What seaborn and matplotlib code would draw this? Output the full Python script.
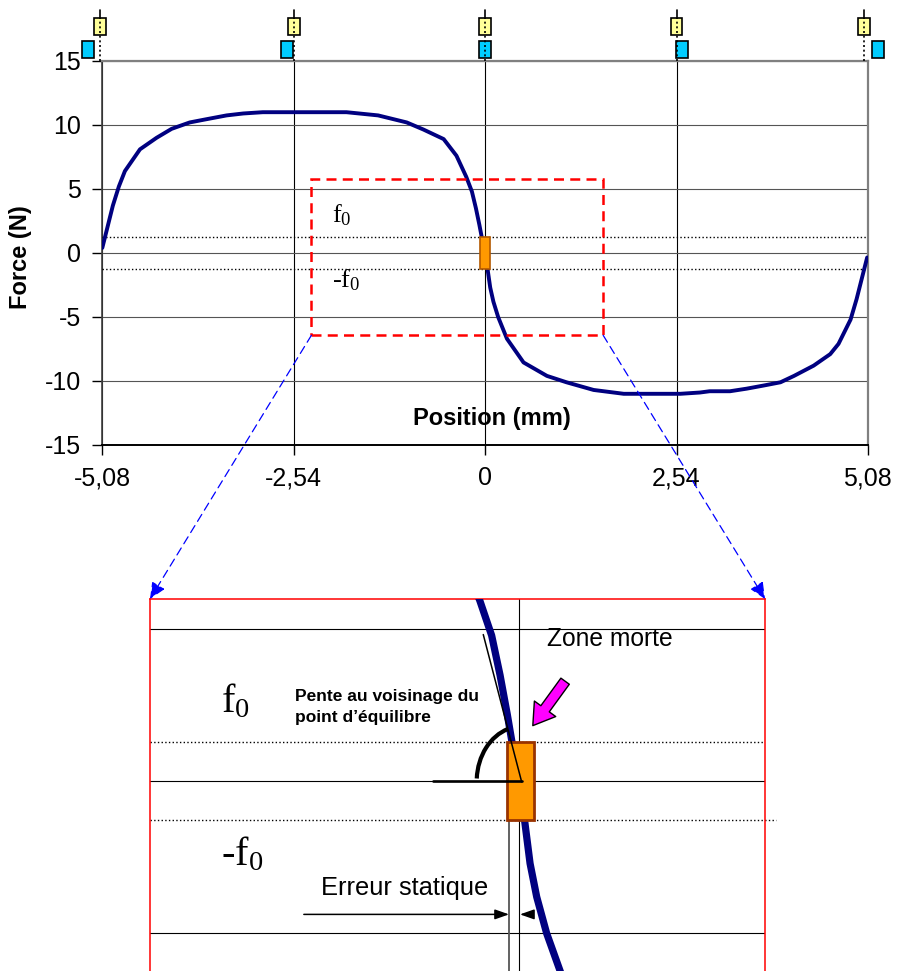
import matplotlib
matplotlib.use('Agg')
import matplotlib.pyplot as plt
import matplotlib.transforms as mtransforms
from matplotlib.patches import Rectangle, Arc, FancyArrowPatch, ConnectionPatch
import seaborn as sns

# Force / position curve
position_mm = [-5.08, -4.94, -4.86, -4.78, -4.58, -4.36, -4.16, -3.92, -3.70, -3.43,
               -3.21, -2.95, -2.60, -1.84, -1.42, -1.04, -0.82, -0.55, -0.38, -0.25,
               -0.175, -0.122, -0.076, -0.045, 0.035, 0.068, 0.11, 0.173, 0.29, 0.51,
               0.82, 1.08, 1.44, 1.84, 2.59, 2.85, 2.98, 3.25, 3.47, 3.70,
               3.92, 4.10, 4.36, 4.58, 4.69, 4.85, 4.93, 5.07]
force_n = [0.4, 3.7, 5.2, 6.4, 8.1, 9.0, 9.7, 10.2, 10.45, 10.75,
           10.9, 11.0, 11.0, 11.0, 10.75, 10.2, 9.65, 8.9, 7.6, 5.95,
           4.8, 3.5, 2.2, 1.25, -1.35, -2.7, -3.8, -5.0, -6.7, -8.55,
           -9.6, -10.1, -10.7, -11.0, -11.0, -10.9, -10.8, -10.8, -10.6, -10.35,
           -10.1, -9.6, -8.8, -7.9, -7.1, -5.2, -3.6, -0.35]

x_ticks = [-5.08, -2.54, 0, 2.54, 5.08]
x_tick_labels = ['-5,08', '-2,54', '0', '2,54', '5,08']
y_ticks = [-15, -10, -5, 0, 5, 10, 15]

F0 = 1.28                       # friction threshold (N)
dead_zone_main = (-0.07, 0.065)  # orange box, main chart (mm)
dead_zone_inset = (-0.076, 0.095)
static_error_mm = -0.065
zoom_box_x = (-2.305, 1.567)
zoom_box_y = (-6.43, 5.76)
inset_xlim = (-2.336, 1.554)
inset_ylim = (-6.336, 6.0)

# little selection handles above the chart (offsets in mm from each grid line)
handle_offset_yellow = [-0.035, 0.0, 0.0, 0.0, -0.052]
handle_offset_cyan = [-0.186, -0.093, 0.0, 0.073, 0.138]

NAVY = '#000080'
ORANGE = '#FF9900'

sns.set_theme(style='white')
plt.rcParams['font.family'] = ['Liberation Sans', 'DejaVu Sans']
plt.rcParams['mathtext.fontset'] = 'custom'
plt.rcParams['mathtext.rm'] = 'Liberation Serif'
plt.rcParams['axes.unicode_minus'] = False
plt.rcParams['text.color'] = 'black'
plt.rcParams['axes.labelcolor'] = 'black'

W, H = 897, 971
fig = plt.figure(figsize=(W / 100, H / 100), dpi=100)

# ---------------- main chart ----------------
ax = fig.add_axes([102.3 / W, 1 - 445 / H, 765.6 / W, 384 / H])
sns.lineplot(x=position_mm, y=force_n, ax=ax, color=NAVY, lw=2.8, zorder=4)
ax.set_xlim(-5.08, 5.08)
ax.set_ylim(-15, 15)
ax.set_xticks(x_ticks, x_tick_labels)
ax.set_yticks(y_ticks)
ax.set_xlabel('')
ax.set_ylabel('Force (N)', fontsize=17, fontweight='bold', color='black')
ax.yaxis.set_label_coords(-0.092, 0.49)
ax.tick_params(axis='both', labelsize=18, length=7.2, width=1, direction='out',
               left=True, bottom=True, colors='black', labelcolor='black')
ax.tick_params(axis='y', pad=8.4)
ax.tick_params(axis='x', pad=8)
ax.set_axisbelow(True)
ax.grid(axis='y', color='#555555', lw=0.8)
ax.grid(axis='x', color='black', lw=0.8)
ax.spines['left'].set_color('#404040')
ax.spines['left'].set_linewidth(1.2)
ax.spines['bottom'].set_color('black')
ax.spines['bottom'].set_linewidth(1.4)
for side in ['top', 'right']:
    ax.spines[side].set_color('#808080')
    ax.spines[side].set_linewidth(1.6)

ax.axhline(F0, color='black', ls=':', lw=1.0, zorder=3)
ax.axhline(-F0, color='black', ls=':', lw=1.0, zorder=3)
ax.text(-2.03, 2.38, r'$\mathrm{f_0}$', fontsize=19, family='Liberation Serif')
ax.text(-2.03, -2.70, r'-$\mathrm{f_0}$', fontsize=19, family='Liberation Serif')
ax.text(0.509, 0.07, 'Position (mm)', transform=ax.transAxes, ha='center',
        va='center', fontsize=17, fontweight='bold')

ax.add_patch(Rectangle((dead_zone_main[0], -F0), dead_zone_main[1] - dead_zone_main[0],
                       2 * F0, fc=ORANGE, ec='#B35900', lw=1.2, zorder=5))
ax.add_patch(Rectangle((zoom_box_x[0], zoom_box_y[0]), zoom_box_x[1] - zoom_box_x[0],
                       zoom_box_y[1] - zoom_box_y[0], fill=False, ec='#FF0000', lw=1.8,
                       ls=(0, (4, 2.5)), zorder=6))

# handles above the plot
trans = mtransforms.blended_transform_factory(ax.transData, ax.transAxes)
hw = 0.159
hh = 17 / 384
for xt, oy, oc in zip(x_ticks, handle_offset_yellow, handle_offset_cyan):
    ax.plot([xt + oy, xt + oy], [1.0, 1.111], transform=trans, color='black', lw=1.2,
            ls=(0, (1.2, 1.6)), clip_on=False, zorder=8)
    ax.plot([xt + oy, xt + oy], [1.111, 1.132], transform=trans, color='black', lw=1.2,
            clip_on=False, zorder=8)
    ax.add_patch(Rectangle((xt + oy - hw / 2, 1.067), hw, hh, transform=trans,
                           fc='#FFFF99', ec='black', lw=1.2, clip_on=False, zorder=7))
    ax.add_patch(Rectangle((xt + oc - hw / 2, 1.0086), hw, hh, transform=trans,
                           fc='#00CCFF', ec='black', lw=1.2, clip_on=False, zorder=7))

# ---------------- zoomed inset ----------------
axin = fig.add_axes([150 / W, 1 - 974 / H, 615 / W, 375 / H])
axin.set_xlim(*inset_xlim)
axin.set_ylim(*inset_ylim)
axin.set_xticks([])
axin.set_yticks([])
for side in axin.spines.values():
    side.set_color('#FF0000')
    side.set_linewidth(1.1)

for yv in [5, 0, -5]:
    axin.axhline(yv, color='black', lw=0.8, zorder=1)
axin.axvline(0, color='black', lw=0.8, zorder=1)
axin.vlines(static_error_mm, inset_ylim[0], F0, color='#555555', lw=1.3, zorder=1)
axin.axhline(F0, color='black', ls=':', lw=1.0, zorder=2)
axin.hlines(-F0, inset_xlim[0], inset_xlim[1] + 0.07, color='black', ls=':', lw=1.0,
            clip_on=False, zorder=2)

sns.lineplot(x=position_mm, y=force_n, ax=axin, color=NAVY, lw=5.2, zorder=3)
axin.set_xlabel('')
axin.set_ylabel('')

axin.add_patch(Rectangle((dead_zone_inset[0], -F0), dead_zone_inset[1] - dead_zone_inset[0],
                         2 * F0, fc=ORANGE, ec='#993300', lw=2, zorder=4))

# slope at the equilibrium point
axin.plot([-0.228, 0.015], [4.83, -0.02], color='black', lw=1.1, zorder=5)
axin.plot([-0.544, 0.015], [0, 0], color='black', lw=1.9, zorder=5)
axin.add_patch(Arc((0.015, 0), 0.569, 3.62, theta1=92.9, theta2=161.5, color='black',
                   lw=3, zorder=5))

axin.add_patch(FancyArrowPatch((0.30, 3.37), (0.075, 1.76), mutation_scale=10,
                               arrowstyle='simple,head_length=1.5,head_width=1.9,tail_width=0.75',
                               fc='#FF00FF', ec='black', lw=1, zorder=6))

# static error arrows
axin.add_patch(FancyArrowPatch((-1.363, -4.375), (static_error_mm, -4.375), mutation_scale=10,
                               arrowstyle='-|>,head_length=0.85,head_width=0.3',
                               color='black', lw=1.1, shrinkA=0, shrinkB=0, zorder=6))
axin.add_patch(FancyArrowPatch((0.087, -4.375), (0.004, -4.375), mutation_scale=10,
                               arrowstyle='-|>,head_length=0.85,head_width=0.3',
                               color='black', lw=1.1, shrinkA=0, shrinkB=0, zorder=6))

axin.text(-1.89, 2.28, r'$\mathrm{f_0}$', fontsize=29, family='Liberation Serif')
axin.text(-1.89, -2.76, r'-$\mathrm{f_0}$', fontsize=29, family='Liberation Serif')
axin.text(-1.42, 2.66, 'Pente au voisinage du', fontsize=12.5, fontweight='bold')
axin.text(-1.42, 1.94, 'point d\u2019\u00e9quilibre', fontsize=12.5, fontweight='bold')
axin.text(0.175, 4.45, 'Zone morte', fontsize=17.7)
axin.text(-1.254, -3.75, 'Erreur statique', fontsize=18.4)

# blue dashed arrows linking the zoom box to the inset
for xa, xb in [(zoom_box_x[0], 0), (zoom_box_x[1], 1)]:
    con = ConnectionPatch(xyA=(xa, zoom_box_y[0]), coordsA=ax.transData,
                          xyB=(xb, 1), coordsB=axin.transAxes,
                          arrowstyle='-|>,head_length=1.0,head_width=0.45',
                          mutation_scale=10, color='#0000FF', lw=0.9,
                          ls=(0, (6.5, 4)), shrinkA=0, shrinkB=0, zorder=10)
    fig.add_artist(con)

fig.savefig('out.png', dpi=100)
